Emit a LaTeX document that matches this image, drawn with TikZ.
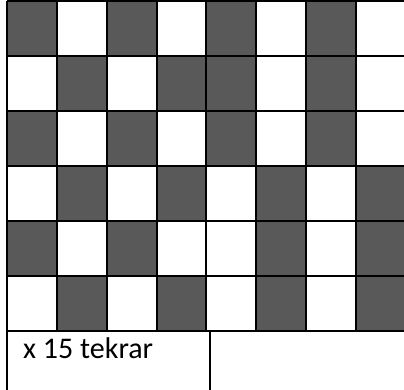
\documentclass[tikz,border=0pt]{standalone}
\usepackage{fontspec}
\setmainfont{Carlito}
\tikzset{
  darkcell/.style = {fill=black!65, draw=none},
  gridline/.style = {line width=1.9pt, black},
  replab/.style   = {font=\fontsize{30}{36}\selectfont, anchor=base west, inner sep=0pt},
}

\begin{document}
\begin{tikzpicture}[x=1pt, y=-1pt]
\useasboundingbox (0,0) rectangle (404,389);
\clip (0,0) rectangle (404,389);
% dark squares, row by row
\foreach \r/\cols in {0/{0,2,4,6}, 1/{1,3,4,6}, 2/{0,2,4,6},
                      3/{1,3,5,7}, 4/{0,2,5,7}, 5/{1,3,5,7}}
  \foreach \c in \cols
    \fill[darkcell] (7+49.85*\c, 1+55*\r) rectangle ++(49.85, 55);
% grid
\foreach \r in {0,...,6}
  \draw[gridline] (7, 1+55*\r) -- (410, 1+55*\r);
\foreach \c in {1,...,8}
  \draw[gridline] (7+49.85*\c, 1) -- (7+49.85*\c, 331);
\draw[gridline] (7, 1) -- (7, 395);
\draw[gridline] (210, 331) -- (210, 395);
\node[replab] (rep) at (23, 358) {x 15 tekrar};
\end{tikzpicture}
\end{document}
